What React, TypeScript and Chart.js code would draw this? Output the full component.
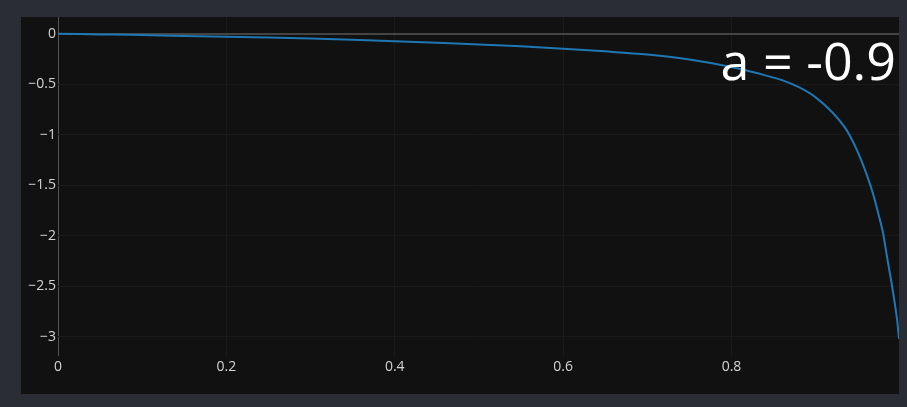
import React, { useEffect, useRef } from "react";
import { Chart, registerables } from "chart.js";

Chart.register(...registerables);

const xValues = [0, 0.05, 0.1, 0.15, 0.2, 0.25, 0.3, 0.35, 0.4, 0.45, 0.5, 0.55, 0.6, 0.65, 0.7, 0.75, 0.8, 0.83, 0.86, 0.88, 0.9, 0.92, 0.934, 0.94, 0.95, 0.96, 0.968, 0.975, 0.98, 0.985, 0.99, 0.994, 0.997, 0.999];
const yValues = [0, -0.007, -0.014, -0.022, -0.03, -0.039, -0.049, -0.061, -0.075, -0.09, -0.106, -0.125, -0.148, -0.175, -0.207, -0.255, -0.33, -0.39, -0.46, -0.53, -0.63, -0.78, -0.92, -1.0, -1.17, -1.38, -1.58, -1.8, -1.97, -2.22, -2.46, -2.67, -2.85, -3.02];
const xTickStep = 0.2;
const yTickStep = 0.5;
const xMin = 0;
const xMax = 0.999;
const yMin = -3.19;
const yMax = 0.165;
const annotationText = "a = -0.9";
const annotationY = -0.46;

const outerBg = "#2a2d33";
const panelBg = "#111111";
const tickColor = "#d4d4d4";
const gridColor = "#1a1a1a";

function fmt(v: number): string {
  const r = parseFloat(v.toFixed(3));
  if (r < 0) return "\u2212" + String(Math.abs(r));
  return String(r);
}

export default function App() {
  const ref = useRef<HTMLCanvasElement | null>(null);
  useEffect(() => {
    if (!ref.current) return;
    const bgPlugin = {
      id: "bg",
      beforeDraw(chart: any) {
        const { ctx, chartArea } = chart;
        ctx.save();
        ctx.fillStyle = outerBg;
        ctx.fillRect(0, 0, chart.width, chart.height);
        ctx.fillStyle = panelBg;
        ctx.fillRect(21, chartArea.top, chartArea.right - 21, 394 - chartArea.top);
        ctx.restore();
      },
    };
    const annPlugin = {
      id: "ann",
      afterDatasetsDraw(chart: any) {
        const { ctx } = chart;
        const xs = chart.scales.x;
        const ys = chart.scales.y;
        ctx.save();
        ctx.font = '52px "Open Sans"';
        ctx.fillStyle = "#ffffff";
        ctx.textAlign = "right";
        ctx.textBaseline = "alphabetic";
        ctx.fillText(annotationText, xs.getPixelForValue(xMax) - 3, ys.getPixelForValue(annotationY));
        ctx.restore();
      },
    };
    const chart = new Chart(ref.current, {
      type: "line",
      data: {
        datasets: [
          {
            data: xValues.map((x, i) => ({ x, y: yValues[i] })),
            borderColor: "#1f77b4",
            borderWidth: 2,
            pointRadius: 0,
            fill: false,
            cubicInterpolationMode: "monotone",
          },
        ],
      },
      options: {
        responsive: false,
        animation: false,
        layout: { padding: { left: 0, top: 17, right: 8, bottom: 13 } },
        plugins: { legend: { display: false }, tooltip: { enabled: false }, title: { display: false } },
        scales: {
          x: {
            type: "linear",
            min: xMin,
            max: xMax,
            afterFit(scale: any) {
              scale.height = 38;
            },
            ticks: {
              stepSize: xTickStep,
              includeBounds: false,
              color: tickColor,
              font: { family: '"Open Sans"', size: 14 },
              padding: 3,
              maxRotation: 0,
              callback: (v: any) => fmt(Number(v)),
            },
            grid: {
              drawTicks: false,
              color: (c: any) => (c.tick && Math.abs(c.tick.value) < 1e-9 ? "#555555" : gridColor),
              lineWidth: 1,
            },
            border: { display: false },
          },
          y: {
            type: "linear",
            min: yMin,
            max: yMax,
            afterFit(scale: any) {
              scale.width = 58;
            },
            ticks: {
              stepSize: yTickStep,
              includeBounds: false,
              color: tickColor,
              font: { family: '"Open Sans"', size: 14 },
              padding: 2,
              callback: (v: any) => fmt(Number(v)),
            },
            grid: {
              drawTicks: false,
              color: (c: any) => (c.tick && Math.abs(c.tick.value) < 1e-9 ? "#444444" : gridColor),
              lineWidth: (c: any) => (c.tick && Math.abs(c.tick.value) < 1e-9 ? 2 : 1),
            },
            border: { display: false },
          },
        },
      },
      plugins: [bgPlugin, annPlugin],
    } as any);
    return () => chart.destroy();
  }, []);
  return (
    <div style={{ position: "absolute", left: 0, top: 0, width: 907, height: 407, background: outerBg }}>
      <canvas ref={ref} width={907} height={407} style={{ display: "block" }} />
    </div>
  );
}
